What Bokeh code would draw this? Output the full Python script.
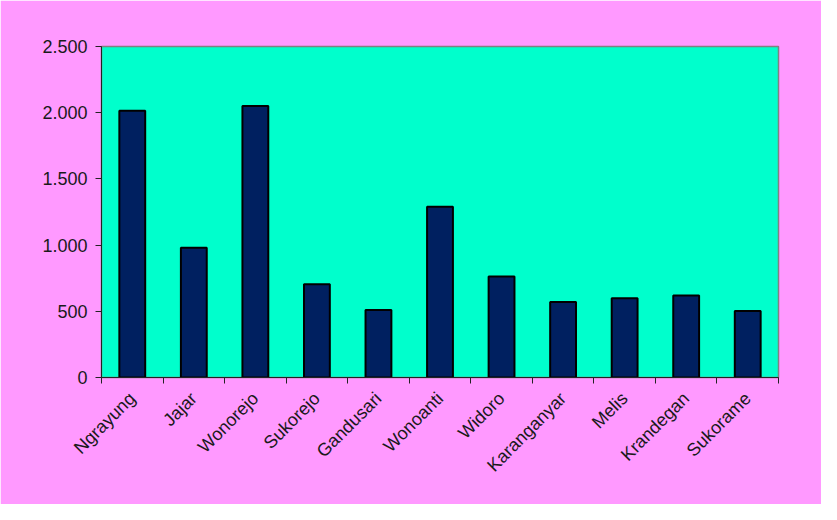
import numpy as np
from bokeh.plotting import figure
from bokeh.models import ColumnDataSource, FixedTicker, Range1d
from bokeh.embed import file_html
from bokeh.resources import INLINE

categories = ["Ngrayung", "Jajar", "Wonorejo", "Sukorejo", "Gandusari", "Wonoanti",
              "Widoro", "Karanganyar", "Melis", "Krandegan", "Sukorame"]
values = [2015, 980, 2050, 705, 510, 1290, 763, 570, 598, 619, 503]
y_ticks = [0, 500, 1000, 1500, 2000, 2500]
y_tick_labels = ["0", "500", "1.000", "1.500", "2.000", "2.500"]

n = len(categories)
x_centers = [i + 0.5 for i in range(n)]
x_bounds = list(range(n + 1))

source = ColumnDataSource(data=dict(x=x_centers, top=values, name=categories))

p = figure(width=821, height=504, output_backend="svg", toolbar_location=None,
           x_range=Range1d(0, n), y_range=Range1d(0, 2500))
p.min_border_left = 101
p.min_border_right = 43
p.min_border_top = 46
p.min_border_bottom = 127

p.background_fill_color = "#00FFCC"
p.border_fill_color = "#FF99FF"
p.outline_line_color = "#808080"
p.outline_line_width = 1.5

p.vbar(x="x", top="top", width=0.42, bottom=0, source=source,
       fill_color="#002060", line_color="#000000", line_width=2)

p.xgrid.visible = False
p.ygrid.visible = False

FONT = "Liberation Sans"

# y axis
p.yaxis.ticker = FixedTicker(ticks=y_ticks)
p.yaxis.major_label_overrides = {t: l for t, l in zip(y_ticks, y_tick_labels)}
p.yaxis.major_label_text_font = FONT
p.yaxis.major_label_text_font_size = "18px"
p.yaxis.major_label_text_color = "#1a1a1a"
p.yaxis.major_tick_in = 0
p.yaxis.major_tick_out = 6
p.yaxis.minor_tick_line_color = None
p.yaxis.axis_line_color = "#222222"
p.yaxis.major_tick_line_color = "#222222"
p.yaxis.major_label_standoff = 8

# x axis
p.xaxis.ticker = FixedTicker(ticks=x_centers, minor_ticks=x_bounds)
p.xaxis.major_label_overrides = {c: name for c, name in zip(x_centers, categories)}
p.xaxis.major_label_orientation = np.pi / 4
p.xaxis.major_label_text_font = FONT
p.xaxis.major_label_text_font_size = "18px"
p.xaxis.major_label_text_color = "#1a1a1a"
p.xaxis.major_tick_line_color = None
p.xaxis.minor_tick_in = 0
p.xaxis.minor_tick_out = 6
p.xaxis.minor_tick_line_color = "#222222"
p.xaxis.axis_line_color = "#222222"
p.xaxis.major_label_standoff = 12

open("out.html", "w").write(file_html(p, INLINE))
